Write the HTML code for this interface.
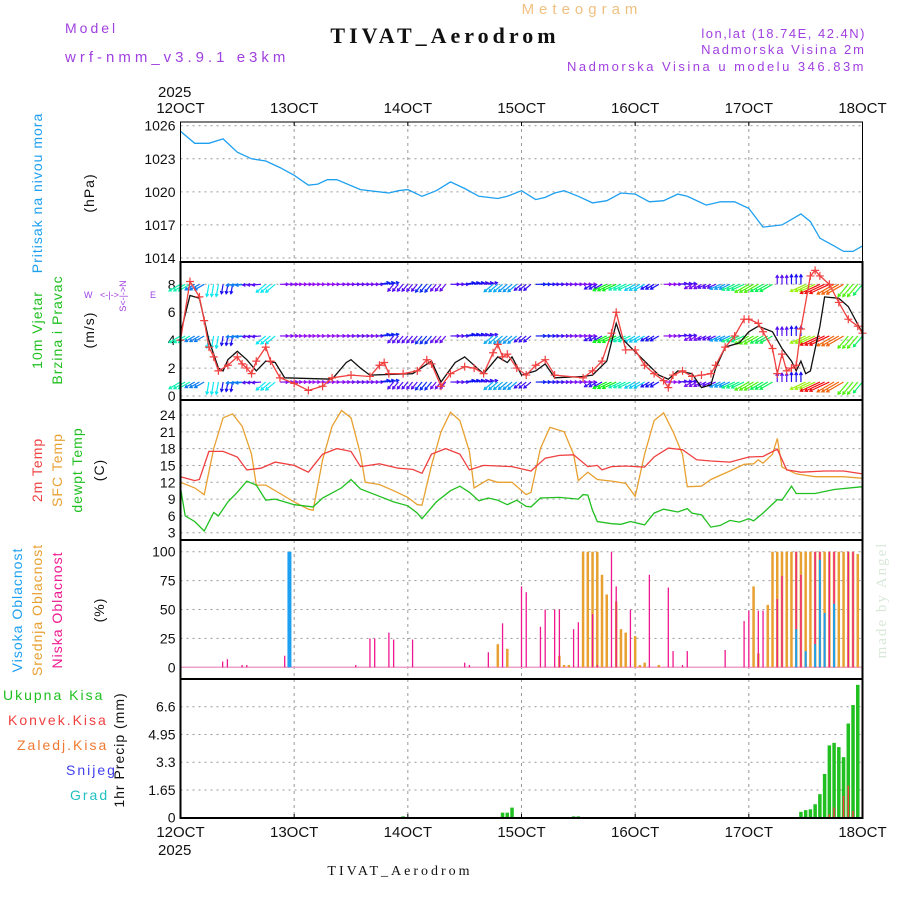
<!DOCTYPE html>
<html><head><meta charset="utf-8"><style>
body{margin:0;background:#fff}
svg{display:block;font-family:"Liberation Sans",sans-serif}
</style></head><body>
<svg id="c" width="900" height="900" viewBox="0 0 900 900" xmlns="http://www.w3.org/2000/svg">
<text x="582" y="14" font-size="15" letter-spacing="5" fill="#f0c080" text-anchor="middle">Meteogram</text>
<text x="445" y="43" font-size="22" letter-spacing="4" font-weight="bold" font-family="Liberation Serif" fill="#111" text-anchor="middle">TIVAT_Aerodrom</text>
<text x="65" y="33" font-size="14" letter-spacing="3" fill="#a040e0">Model</text>
<text x="65" y="62" font-size="15" letter-spacing="4" fill="#a040e0">wrf-nmm_v3.9.1 e3km</text>
<text x="866" y="38" font-size="13" letter-spacing="1.5" fill="#a040e0" text-anchor="end">lon,lat (18.74E, 42.4N)</text>
<text x="866" y="54" font-size="13" letter-spacing="2" fill="#a040e0" text-anchor="end">Nadmorska Visina 2m</text>
<text x="866" y="71" font-size="13" letter-spacing="2.5" fill="#a040e0" text-anchor="end">Nadmorska Visina u modelu 346.83m</text>
<text x="158" y="97" font-size="15" fill="#111">2025</text>
<text x="158" y="855" font-size="15" fill="#111">2025</text>
<text x="400" y="875" font-size="14" letter-spacing="3" font-family="Liberation Serif" fill="#111" text-anchor="middle">TIVAT_Aerodrom</text>
<text transform="translate(886,600) rotate(-90)" font-size="15" letter-spacing="2" font-family="Liberation Serif" fill="#d8e8d8" text-anchor="middle">made by Angel</text>
<g font-size="14" text-anchor="middle" letter-spacing="1">
<text transform="translate(42,193) rotate(-90)" fill="#1ea0f0">Pritisak na nivou mora</text>
<text transform="translate(94,193) rotate(-90)" fill="#111">(hPa)</text>
<text transform="translate(42,330) rotate(-90)" fill="#20c020">10m Vjetar</text>
<text transform="translate(62,330) rotate(-90)" fill="#20c020">Brzina i Pravac</text>
<text transform="translate(94,330) rotate(-90)" fill="#111">(m/s)</text>
<text transform="translate(42,470) rotate(-90)" fill="#f04040">2m Temp</text>
<text transform="translate(62,470) rotate(-90)" fill="#e8a030">SFC Temp</text>
<text transform="translate(82,470) rotate(-90)" fill="#20c020">dewpt Temp</text>
<text transform="translate(104,470) rotate(-90)" fill="#111">(C)</text>
<text transform="translate(22,610) rotate(-90)" fill="#1ea0f0">Visoka Oblacnost</text>
<text transform="translate(42,610) rotate(-90)" fill="#e8a030">Srednja Oblacnost</text>
<text transform="translate(62,610) rotate(-90)" fill="#f01890">Niska Oblacnost</text>
<text transform="translate(104,610) rotate(-90)" fill="#111">(%)</text>
<text transform="translate(124,750) rotate(-90)" fill="#111">1hr Precip (mm)</text>
</g>
<g font-size="14" letter-spacing="2">
<text x="3" y="700" fill="#20c020">Ukupna Kisa</text>
<text x="8" y="725" fill="#f04040">Konvek.Kisa</text>
<text x="17" y="750" fill="#f07830">Zaledj.Kisa</text>
<text x="66" y="775" fill="#4040f0">Snijeg</text>
<text x="70" y="800" fill="#20c0c0">Grad</text>
</g>
<g font-size="9" fill="#a040e0">
<text x="84" y="298">W</text>
<text x="100" y="298">&lt;-|-&gt;</text>
<text x="150" y="298">E</text>
<text transform="translate(126,296) rotate(-90)" text-anchor="middle">S&lt;-|-&gt;N</text>
</g>
</svg>
<script>
const pressT=[0,3,6,9,12,15,18,21,24,27,29,31,33,38,44,46,48,51,54,57,60,63,67,69,72,75,77,79,81,84,87,90,93,96,99,102,105,107,111,114,117,120,123,125,127,129,131,133,135,138,140,142,144];
const pressV=[1025.5,1024.4,1024.4,1024.8,1023.6,1023.0,1022.8,1022.2,1021.5,1020.6,1020.7,1021.1,1021.1,1020.2,1019.9,1020.1,1020.2,1019.6,1020.1,1020.9,1020.3,1019.6,1019.4,1019.6,1020.1,1019.3,1019.5,1019.9,1020.1,1019.6,1019.0,1019.2,1019.9,1019.8,1019.1,1019.2,1019.8,1019.6,1018.8,1019.1,1019.1,1018.5,1016.8,1016.9,1017.0,1017.5,1018.0,1017.3,1015.8,1015.1,1014.6,1014.6,1015.1];
const pressTicks=[1014,1017,1020,1023,1026];
const wsBlackT=[0,2,4,6,8,9,10,12,14,16,18,20,22,32,35,36,38,40,49,53,55,58,60,62,64,67,69,70,72,75,77,79,85,87,90,92,93,95,98,101,103,105,108,110,112,113,115,118,120,122,125,127,129,130,131,132,133,135,136,139,141,144];
const wsBlackV=[4.5,7.2,7.0,4,2,1.8,2.6,3.2,2.6,1.8,2.5,2.4,1.3,1.2,2.4,2.6,2,1.5,1.6,2.5,1,2.4,2.8,2.2,1.6,2.8,2.4,2.8,1.5,1.8,2.3,1.3,1.4,1.5,2.5,5.2,4.2,3.5,2.5,1.5,1.2,1.8,1.6,0.6,0.8,2,3.5,3.8,4.6,5,4.6,3.4,2.5,1.8,2.5,1.6,1.8,5,7.1,7,6.4,4.5];
const wsRedT=[0,2,4,5,6,7,8,10,12,13,14,15,16,18,19,21,24,27,30,32,36,40,42,43,44,47,50,52,53,55,57,60,62,64,66,67,68,69,71,73,75,77,79,85,87,89,91,92,94,96,98,100,102,103,104,106,108,110,112,113,115,117,119,120,122,123,125,126,127,128,129,130,131,133,134,135,137,139,141,143,144];
const wsRedV=[4,8.2,7.1,5.4,3.5,2.8,1.8,2.2,2.8,2.3,2.0,1.6,2.5,3.5,2.5,1.3,0.9,0.4,0.7,1.3,1.5,1.4,2.2,2.4,1.6,1.6,1.8,2.6,2.3,0.7,1.6,2.1,2.0,1.6,3.1,3.7,2.8,3.0,2.0,1.5,2.2,2.6,1.5,1.3,1.8,2.5,4.5,6.0,3.3,3.3,2.2,1.6,1.1,0.6,1.5,1.8,1.4,1.5,1.6,2.2,3.5,4.3,5.5,5.5,5.2,4.6,3.4,1.6,3.0,1.8,2.0,2.2,4.8,8.6,9.0,8.6,8.0,6.7,5.5,5.0,4.5];
const windTicks=[0,2,4,6,8];
const windDir3=[150,150,100,100,175,175,140,0,0,0,0,0,0,0,-10,130,130,130,130,0,-10,-10,140,140,140,0,0,0,0,150,155,155,150,150,0,-5,150,155,155,155,150,150,-90,-90,155,155,150,130,130];
const windSpd3=[4,2.8,3.5,2,2.8,1.6,3.5,1.3,0.9,0.4,0.7,1.3,1.5,1.4,2.2,1.6,1.6,2.3,1.5,1.6,2.1,1.8,3.1,3,1.8,2.2,1.8,1.4,1.3,1.8,5,4,3.3,2,1.1,1.7,1.4,1.6,3,4.3,5.5,4.6,1.6,2,6,8.6,7.5,5.5,4.5];
const windRows=[8,4.3,1];
const t2T=[0,3,4,6,9,12,14,17,20,24,27,30,33,36,38,42,46,49,51,53,56,59,61,64,67,70,74,77,80,83,86,88,89,91,94,98,100,103,106,109,112,116,120,123,126,128,131,136,140,144];
const t2V=[13,12.3,12.5,17.5,17.5,16.5,14.2,14.5,15.6,15.0,13.8,17.0,18,17.5,14.8,15.3,14.5,14.3,13.6,17,18,17,14.2,15,14.9,14.8,14,16.3,16.8,16.9,14.8,15.0,14.2,14.8,14.9,14.7,16.5,18.1,17.8,16,15.8,15.6,16.5,16.6,17.9,14.2,13.8,14.0,14.0,13.5];
const sfcT=[0,3,5,7,9,11,13,15,16,18,21,24,27,28,30,32,34,36,38,39,42,45,48,50,51,53,55,57,59,61,62,65,67,70,73,74,76,78,81,83,84,86,88,91,94,96,98,100,102,104,106,107,110,112,116,119,121,122,123,125,126,127,130,134,140,144];
const sfcV=[12,11,9.8,18,23.5,24.2,22,17,11.5,11.5,10,8.5,7.2,7,16,22,24.8,23.5,17,12,11.6,10.5,9.3,8,7.9,15,21,24.5,23,17.5,11,12.5,12,12,9.8,10.2,18,21.8,21,17,12.3,13.8,12.5,12.2,11.8,9.5,17,23,24.4,21,17,11.2,11.3,12.5,14,15.2,15.3,16,15.4,17,19.8,14.7,13.5,13,13,12.7];
const dewT=[0,1,3,5,7,8,10,12,14,16,18,20,22,24,28,30,34,36,38,42,45,48,50,51,54,57,59,61,63,65,67,69,71,73,74,76,80,84,85,86,87,88,91,93,95,98,100,102,105,107,108,110,112,114,116,118,120,121,123,126,127,129,130,134,138,144];
const dewV=[11,6,5,3.3,6.6,6,8.5,10.2,12.2,11.5,8.8,9,8.5,8,7.6,9.2,11,12.5,10.8,9.5,8.5,7.8,6.5,5.5,8.5,10.5,11.3,10.2,8.7,9.2,8.8,8,8.8,7.7,7.6,9.2,9.3,9,9.8,9.7,7,5,4.6,4.5,5.0,4.4,6.5,7.2,6.7,7.3,6.5,6.2,4.0,4.3,5.2,4.9,5.5,5.1,6.5,8.9,8.8,11.3,10,10,10.7,11.2];
const tempTicks=[3,6,9,12,15,18,21,24];
const lowT=[8.9,9.9,13,14,22,37,40,41,44,45,49,60,61,65,68,72,73,76,77,79,80,83,84,87,88,91,92,95,99,103,104,106,107,115,119,120,122,123,126,127,130,131,134,135,137,138,141,142];
const lowV=[5,7,2,2,10,2,25,25,30,24,24,4,2,13,38,70,65,35,50,50,50,33,39,46,2,100,70,50,80,69,14,2,14,15,40,49,49,49,59,79,100,80,100,100,100,100,100,100];
const midT=[67,69,80,81,82,85,86,87,88,89,90,92,93,94,96,97,98,101,121,122,124,125,126,127,128,129,130,131,132,133,134,135,136,137,138,139,140,141,142,143];
const midV=[20,16,10,2,2,100,100,100,100,80,63,57,33,30,27,2,4,2,70,12,54,100,100,100,100,100,100,100,100,100,100,100,100,100,100,100,100,100,100,98];
const highT=[23,130,132,134,135,136,138];
const highV=[100,33,14,20,93,47,55];
const cloudTicks=[0,25,50,75,100];
const precT=[47,68,69,70,83,84,131,132,133,134,135,136,137,138,139,140,141,142,143];
const precV=[0.08,0.3,0.3,0.6,0.08,0.08,0.35,0.45,0.5,0.8,1.4,2.6,4.3,4.45,4.2,3.6,5.6,6.7,7.9];
const convT=[137,138,140,141,142,144];
const convV=[0.2,0.6,1.3,1.9,0.4,1.2];
const precTicks=[0,1.65,3.3,4.95,6.6];
const dayLabels=["12OCT","13OCT","14OCT","15OCT","16OCT","17OCT","18OCT"];

const NS='http://www.w3.org/2000/svg';
const svg=document.getElementById('c');
const X0=180.5,X1=862.5;
const xs=h=>X0+(X1-X0)*h/144;
function mk(tag,attrs,parent){const e=document.createElementNS(NS,tag);for(const k in attrs)e.setAttribute(k,attrs[k]);(parent||svg).appendChild(e);return e;}
const panels=[
 {name:'pressure',top:122,bot:262,v0:1014,y0:258,v1:1026,y1:125.7},
 {name:'wind',top:262,bot:400,v0:0,y0:396,v1:8,y1:284.3},
 {name:'temp',top:400,bot:540,v0:3,y0:532.7,v1:24,y1:415},
 {name:'cloud',top:540,bot:679,v0:0,y0:667.3,v1:100,y1:551.7},
 {name:'precip',top:679,bot:818,v0:0,y0:817.7,v1:6.6,y1:706.7}];
panels.forEach(p=>p.ys=v=>p.y0+(v-p.v0)*(p.y1-p.y0)/(p.v1-p.v0));
const [PP,PW,PT,PC,PR]=panels;
function grid(p,ticks,fmt){
 const g=mk('g',{});
 
 
 ticks.forEach(v=>{const y=p.ys(v);
  const l=mk('line',{x1:X0,x2:X1,y1:y,y2:y,stroke:'#999','stroke-dasharray':'2,4','stroke-width':1},g);
  
  
  const t=mk('text',{x:X0-5,y:y+5,'font-size':14,'text-anchor':'end',fill:'#111'},g);
  
  
  t.textContent=fmt?fmt(v):v;});
 for(let d=1;d<6;d++){const x=xs(d*24);
  const l=mk('line',{x1:x,x2:x,y1:p.top,y2:p.bot,stroke:'#999','stroke-dasharray':'3,4'},g);
  
  }
}
grid(PP,pressTicks);grid(PW,windTicks);grid(PT,tempTicks);grid(PC,cloudTicks);grid(PR,precTicks);
function line(p,T,V,color,name,w){
 const pts=T.map((t,i)=>xs(t).toFixed(1)+','+p.ys(V[i]).toFixed(1)).join(' ');
 const e=mk('polyline',{points:pts,fill:'none',stroke:color,'stroke-width':w||1.3});
 
 
 return e;}
line(PP,pressT,pressV,'#1ea0f0','pressure-line');
const wg=mk('g',{});


function windColor(s){const h=Math.max(0,Math.min(275,275-(s-1.2)*40));return 'hsl('+h+',90%,50%)';}
windDir3.forEach((d,i)=>{
 for(let k=0;k<3;k++){const h=i*3+k;if(h>144)break;
  windRows.forEach(r=>{
   const s=windSpd3[i];const L=6+s*1.8;const a=d*Math.PI/180;
   const x=xs(h),y=PW.ys(r);
   const x2=x+L*Math.cos(a),y2=y+L*Math.sin(a);
   const c=windColor(s);
   const e=mk('line',{x1:x,y1:y,x2:x2,y2:y2,stroke:c,'stroke-width':1.2},wg);
   
   
   const hd=mk('path',{d:`M${x2+3*Math.cos(a+2.6)},${y2+3*Math.sin(a+2.6)}L${x2},${y2}L${x2+3*Math.cos(a-2.6)},${y2+3*Math.sin(a-2.6)}`,stroke:c,fill:'none','stroke-width':1.2},wg);
   
   
  });}
});
line(PW,wsBlackT,wsBlackV,'#111','wind-speed-line');
line(PW,wsRedT,wsRedV,'#f04040','wind-gust-line');
const mg=mk('g',{});


wsRedT.forEach((t,i)=>{const x=xs(t),y=PW.ys(wsRedV[i]);
 const e=mk('path',{d:`M${x-4},${y}H${x+4}M${x},${y-4}V${y+4}`,stroke:'#f04040','stroke-width':1.2},mg);
 
 });
line(PT,sfcT,sfcV,'#e8a030','sfc-temp-line');
line(PT,t2T,t2V,'#f04040','2m-temp-line');
line(PT,dewT,dewV,'#20c020','dewpoint-line');
function bars(p,T,V,color,w,name){
 const g=mk('g',{});
 
 
 T.forEach((t,i)=>{const y=p.ys(V[i]),y0=p.ys(0);
  const e=mk('rect',{x:xs(t)-w/2,y:y,width:w,height:Math.max(0,y0-y),fill:color},g);
  
  });}
mk('line',{x1:X0,x2:X1,y1:PC.ys(0),y2:PC.ys(0),stroke:'#f0a0c8','stroke-width':1.5});
bars(PC,midT,midV,'#e8a030',2.5,'cloud-mid');
bars(PC,lowT,lowV,'#f01890',1.3,'cloud-low');
bars(PC,highT.slice(0,1),highV.slice(0,1),'#1ea0f0',4,'cloud-high-main');
bars(PC,highT.slice(1),highV.slice(1),'#1ea0f0',2,'cloud-high');
bars(PR,precT,precV,'#20c020',3.5,'precip-total');
bars(PR,convT,convV,'#f04040',1.5,'precip-convective');
panels.forEach(p=>{const r=mk('rect',{x:X0,y:p.top,width:X1-X0,height:p.bot-p.top,fill:'none',stroke:'#000','stroke-width':p.name=='pressure'?1:2});
 
 });
dayLabels.forEach((d,i)=>{const x=xs(i*24);
 [[113,'top'],[837,'bottom']].forEach(([y,s])=>{
  const t=mk('text',{x:x,y:y,'font-size':15,'text-anchor':'middle',fill:'#111'});
  
  
  t.textContent=d;});
 [[PP.top,4],[PR.bot,-4]].forEach(([y,dy])=>{const l=mk('line',{x1:x,x2:x,y1:y,y2:y+dy,stroke:'#000'});
  
  });
});
</script>
</body></html>
